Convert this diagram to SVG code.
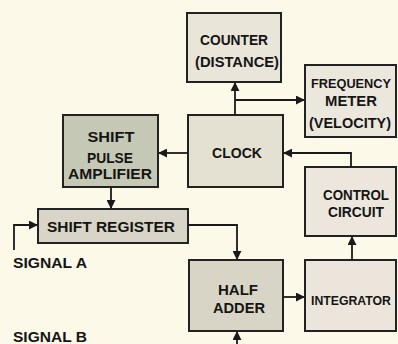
<svg xmlns="http://www.w3.org/2000/svg" width="398" height="344" viewBox="0 0 398 344">
<defs>
<marker id="ah" viewBox="0 0 10 10" refX="9" refY="5" markerWidth="5" markerHeight="5" orient="auto" markerUnits="strokeWidth">
<path d="M0,0 L10,5 L0,10 z" fill="#1a1a1a"/>
</marker>
</defs>
<style>
.bx{stroke:#222;stroke-width:2}
.t{font-family:"Liberation Sans",Arial,sans-serif;font-size:15px;font-weight:bold;fill:#151515;text-anchor:middle}
.s{font-size:13.5px}
.c{fill:none;stroke:#1a1a1a;stroke-width:1.8;marker-end:url(#ah)}
</style>
<rect width="398" height="344" fill="#fcf9e9"/>
<g id="counter"><rect class="bx" x="187" y="13" width="94" height="69" fill="#e9e5d9"/>
<text class="t" x="234" y="45" textLength="68" lengthAdjust="spacingAndGlyphs">COUNTER</text><text class="t" x="237" y="67" textLength="84" lengthAdjust="spacingAndGlyphs">(DISTANCE)</text></g>
<g id="freqmeter"><rect class="bx" x="305" y="65" width="91" height="72" fill="#ece7dd"/>
<text class="t s" x="351" y="88" textLength="80" lengthAdjust="spacingAndGlyphs">FREQUENCY</text><text class="t" x="351" y="106" textLength="52" lengthAdjust="spacingAndGlyphs">METER</text><text class="t" x="350" y="128" textLength="82" lengthAdjust="spacingAndGlyphs">(VELOCITY)</text></g>
<g id="shiftpulse"><rect class="bx" x="63" y="115" width="95" height="72" fill="#c6c8b6"/>
<text class="t" x="111" y="142" textLength="47" lengthAdjust="spacingAndGlyphs">SHIFT</text><text class="t" x="110" y="163" textLength="46" lengthAdjust="spacingAndGlyphs">PULSE</text><text class="t" x="110" y="179" textLength="84" lengthAdjust="spacingAndGlyphs">AMPLIFIER</text></g>
<g id="clock"><rect class="bx" x="188" y="115" width="95" height="72" fill="#e4e1d3"/>
<text class="t" x="237" y="158" textLength="50" lengthAdjust="spacingAndGlyphs">CLOCK</text></g>
<g id="control"><rect class="bx" x="305" y="167" width="91" height="69" fill="#ece6dd"/>
<text class="t" x="356" y="200" textLength="66" lengthAdjust="spacingAndGlyphs">CONTROL</text><text class="t" x="356" y="217" textLength="56" lengthAdjust="spacingAndGlyphs">CIRCUIT</text></g>
<g id="shiftreg"><rect class="bx" x="38" y="209" width="150" height="34" fill="#d8d5c8"/>
<text class="t" x="111" y="232" textLength="128" lengthAdjust="spacingAndGlyphs">SHIFT REGISTER</text></g>
<g id="halfadder"><rect class="bx" x="189" y="260" width="94" height="71" fill="#d9d5c6"/>
<text class="t" x="238" y="295" textLength="40" lengthAdjust="spacingAndGlyphs">HALF</text><text class="t" x="239" y="313" textLength="52" lengthAdjust="spacingAndGlyphs">ADDER</text></g>
<g id="integrator"><rect class="bx" x="305" y="260" width="91" height="71" fill="#ece5dc"/>
<text class="t s" x="351" y="305" textLength="80" lengthAdjust="spacingAndGlyphs">INTEGRATOR</text></g>
<g id="labels">
<text class="t" x="13" y="268" style="text-anchor:start" textLength="74" lengthAdjust="spacingAndGlyphs">SIGNAL A</text>
<text class="t" x="13" y="342" style="text-anchor:start" textLength="74" lengthAdjust="spacingAndGlyphs">SIGNAL B</text>
</g>
<g id="connectors">
<path class="c" d="M235,115 V83"/>
<path class="c" d="M235,100 H304"/>
<path class="c" d="M188,153 H159"/>
<path class="c" d="M351,167 V153 H284"/>
<path class="c" d="M111,187 V208"/>
<path class="c" d="M14,250 V225 H37"/>
<path class="c" d="M188,225 H237 V259"/>
<path class="c" d="M283,297 H304"/>
<path class="c" d="M352,260 V237"/>
<path class="c" d="M237,344 V332"/>
</g>
</svg>
